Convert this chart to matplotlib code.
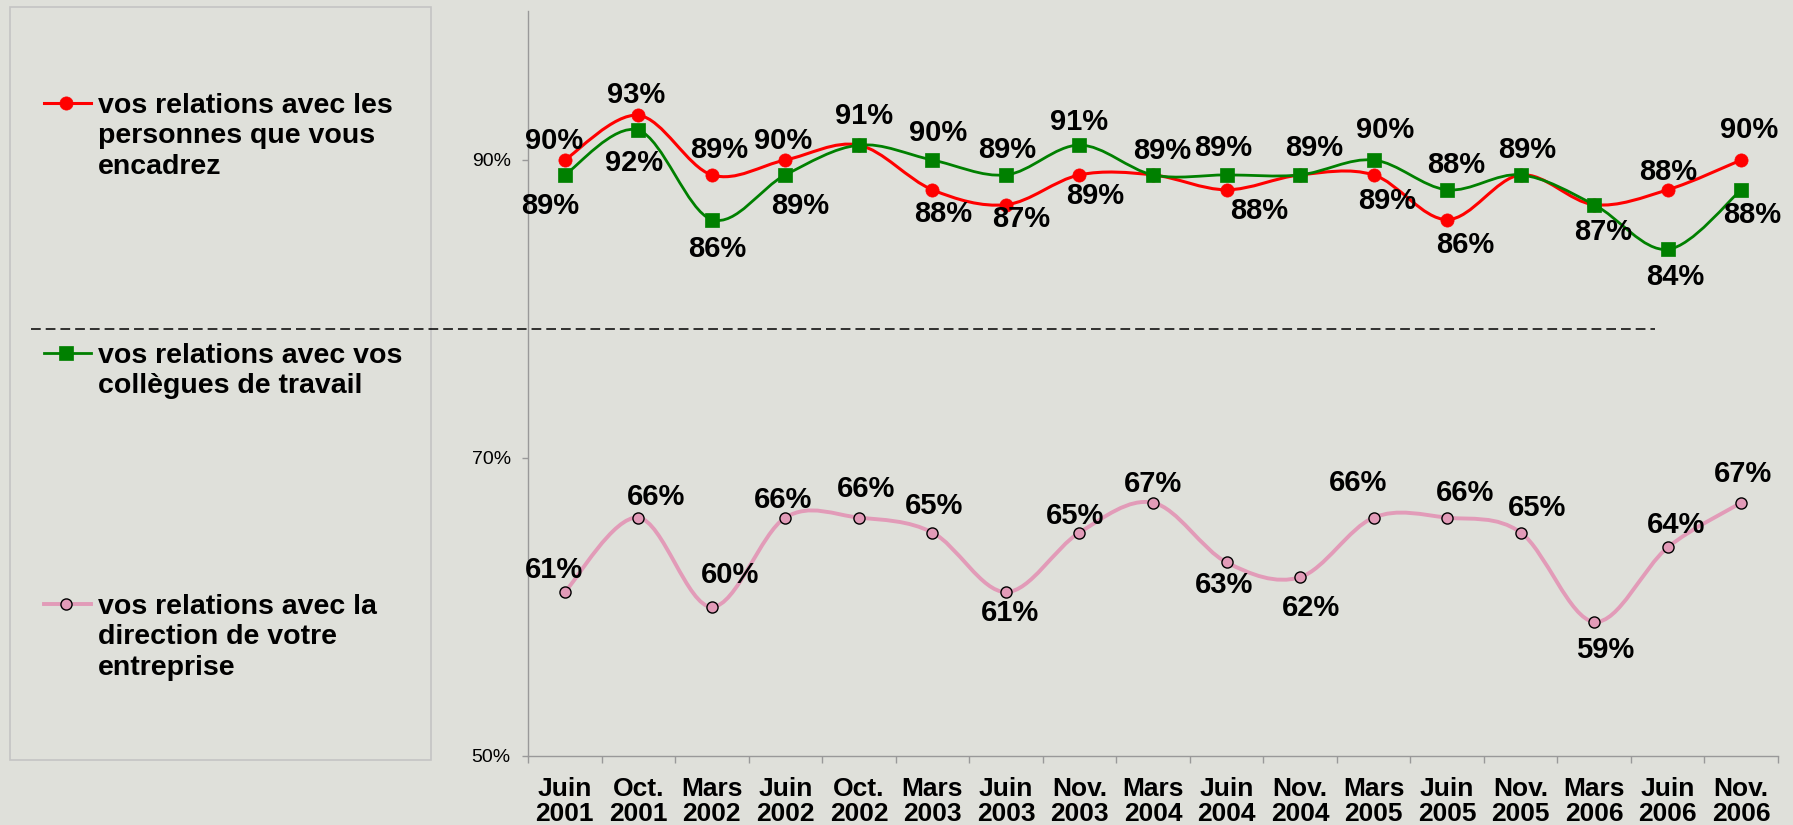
import matplotlib
matplotlib.use("Agg")
import matplotlib.pyplot as plt
from matplotlib.path import Path
from matplotlib.patches import PathPatch, Rectangle
from matplotlib.lines import Line2D

periods = ["Juin\n2001", "Oct.\n2001", "Mars\n2002", "Juin\n2002", "Oct.\n2002",
           "Mars\n2003", "Juin\n2003", "Nov.\n2003", "Mars\n2004", "Juin\n2004",
           "Nov.\n2004", "Mars\n2005", "Juin\n2005", "Nov.\n2005", "Mars\n2006",
           "Juin\n2006", "Nov.\n2006"]

encadres = [90, 93, 89, 90, 91, 88, 87, 89, 89, 88, 89, 89, 86, 89, 87, 88, 90]
collegues = [89, 92, 86, 89, 91, 90, 89, 91, 89, 89, 89, 90, 88, 89, 87, 84, 88]
direction = [61, 66, 60, 66, 66, 65, 61, 65, 67, 63, 62, 66, 66, 65, 59, 64, 67]

series_names = ["vos relations avec les\npersonnes que vous\nencadrez",
                "vos relations avec vos\ncollègues de travail",
                "vos relations avec la\ndirection de votre\nentreprise"]

# data label offsets (pixels, dx, dy); None = label hidden behind the other series
off_encadres = [(-11, 19), (-2, 20), (7, 25), (-2, 19), None, (11, -24), (15, -14),
                (16, -21), None, (33, -21), None, (14, -26), (18, -25), None, None,
                (0, 18), (8, 30)]
off_collegues = [(-15, -31), (-4, -33), (5, -29), (15, -31), (5, 29), (6, 27), (1, 25),
                 (0, 23), (9, 24), (-3, 27), (14, 27), (12, 30), (9, 25), (7, 25),
                 (9, -27), (8, -28), (11, -25)]
off_direction = [(-11, 22), (18, 21), (18, 32), (-2, 18), (7, 29), (2, 27), (4, -21),
                 (-4, 17), (0, 19), (-2, -23), (11, -31), (-16, 35), (18, 25), (16, 25),
                 (11, -28), (8, 22), (2, 29)]

BG = "#dfe0da"
RED = "#ff0000"
GREEN = "#008000"
PINK = "#e29bb8"
W, H = 1793, 825


def smooth_path(xs, ys):
    """Bezier path through the points, like Excel's smoothed line."""
    pts = list(zip(xs, ys))
    n = len(pts)
    verts = [pts[0]]
    codes = [Path.MOVETO]
    for i in range(n - 1):
        p0 = pts[i - 1] if i > 0 else pts[i]
        p1 = pts[i]
        p2 = pts[i + 1]
        p3 = pts[i + 2] if i + 2 < n else pts[i + 1]
        c1 = (p1[0] + (p2[0] - p0[0]) / 6, p1[1] + (p2[1] - p0[1]) / 6)
        c2 = (p2[0] - (p3[0] - p1[0]) / 6, p2[1] - (p3[1] - p1[1]) / 6)
        verts += [c1, c2, p2]
        codes += [Path.CURVE4] * 3
    return Path(verts, codes)


def fpos(x, y):
    return x / W, 1 - y / H


def main():
    plt.rcParams['font.family'] = ['Liberation Sans', 'DejaVu Sans']
    plt.rcParams['lines.scale_dashes'] = False
    fig = plt.figure(figsize=(W / 100, H / 100), dpi=100, facecolor=BG)
    ax = fig.add_axes([528 / W, 1 - 756 / H, (1778 - 528) / W, (756 - 11) / H])
    ax.set_facecolor(BG)

    x = list(range(len(periods)))
    styles = [
        (encadres, off_encadres, RED, 'o', 9.5, RED, 2.2),
        (collegues, off_collegues, GREEN, 's', 9.5, GREEN, 2.0),
        (direction, off_direction, PINK, 'o', 8, 'black', 2.8),
    ]
    for vals, offs, color, mk, ms, mec, lw in styles:
        ax.add_patch(PathPatch(smooth_path(x, vals), fill=False, edgecolor=color,
                               lw=lw, capstyle='round', joinstyle='round'))
        ax.plot(x, vals, linestyle='none', marker=mk, ms=ms, mfc=color, mec=mec,
                mew=1.0 if mec == 'black' else 0.5)
        for xi, v, o in zip(x, vals, offs):
            if o is None:
                continue
            ax.annotate(f"{v}%", (xi, v), xytext=o, textcoords='offset pixels',
                        ha='center', va='center', fontsize=21, fontweight='bold')

    ax.set_xlim(-0.5, len(periods) - 0.5)
    ax.set_ylim(50, 100)
    ax.set_yticks([50, 70, 90])
    ax.set_yticklabels(["50%", "70%", "90%"])
    ax.set_xticks(x)
    ax.set_xticklabels(periods, fontsize=19, fontweight='bold', linespacing=1.08)
    ax.set_xticks([i - 0.5 for i in range(len(periods) + 1)], minor=True)
    ax.tick_params(axis='x', which='major', length=0, pad=15)
    ax.tick_params(axis='x', which='minor', length=5, color='#999999', width=1)
    ax.tick_params(axis='y', length=4.5, color='#999999', width=1, pad=8,
                   labelsize=14)
    for side in ['top', 'right']:
        ax.spines[side].set_visible(False)
    for side in ['left', 'bottom']:
        ax.spines[side].set_color('#999999')
        ax.spines[side].set_linewidth(1)

    # legend box
    x0, y0 = fpos(10, 760)
    x1, y1 = fpos(431, 7)
    fig.add_artist(Rectangle((x0, y0), x1 - x0, y1 - y0, transform=fig.transFigure,
                             fill=False, edgecolor='#c4c4c4', lw=1.2))
    legend_y = [103, 353, 604]
    for (vals, offs, color, mk, ms, mec, lw), name, ly in zip(styles, series_names,
                                                             legend_y):
        lx0, lyy = fpos(44, ly)
        lx1, _ = fpos(91, ly)
        mx, _ = fpos(66, ly)
        fig.add_artist(Line2D([lx0, lx1], [lyy, lyy], transform=fig.transFigure,
                              color=color, lw=lw))
        fig.add_artist(Line2D([mx], [lyy], transform=fig.transFigure, marker=mk,
                              ms=ms, mfc=color, mec=mec,
                              mew=1.0 if mec == 'black' else 0.5))
        tx, ty = fpos(98, ly - 10)
        fig.text(tx, ty, name, ha='left', va='top', fontsize=20.5, fontweight='bold',
                 linespacing=1.22)

    # dashed separator
    dx0, dy0 = fpos(31, 329)
    dx1, _ = fpos(1655, 329)
    fig.add_artist(Line2D([dx0, dx1], [dy0, dy0], transform=fig.transFigure,
                          color='black', lw=1.1, dashes=(7, 3.6)))

    fig.savefig("out.png", dpi=100, facecolor=BG)


if __name__ == "__main__":
    main()
